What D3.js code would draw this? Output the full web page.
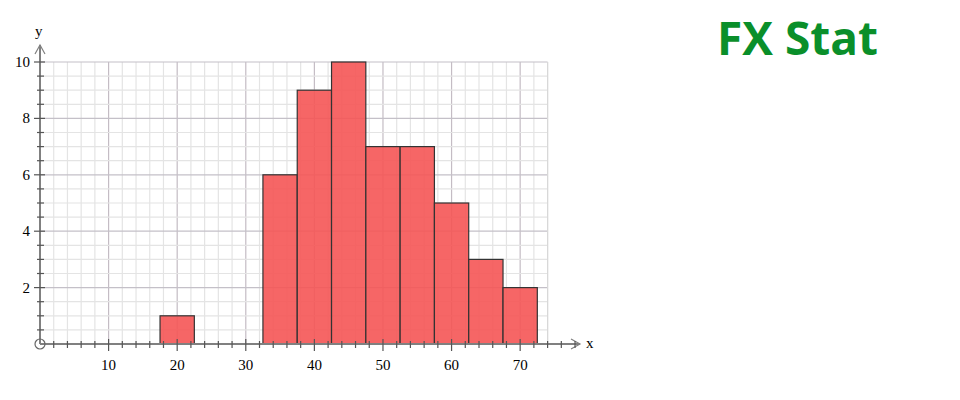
<!DOCTYPE html>
<html><head><meta charset="utf-8">
<script src="https://cdn.jsdelivr.net/npm/d3@7"></script>
<style>body{margin:0;background:#fff}svg{display:block}</style>
</head><body><svg id="c" width="960" height="400"></svg>
<script>
const binStarts = [17.5, 32.5, 37.5, 42.5, 47.5, 52.5, 57.5, 62.5, 67.5];
const binWidth = 5;
const counts = [1, 6, 9, 10, 7, 7, 5, 3, 2];
const xTickLabels = [10, 20, 30, 40, 50, 60, 70];
const yTickLabels = [2, 4, 6, 8, 10];
const title = "FX Stat";

const svg = d3.select("#c");
const x = d3.scaleLinear().domain([0, 74]).range([40, 547.6]);
const y = d3.scaleLinear().domain([0, 10]).range([344, 62]);

const g = svg.append("g");
// grid
const vx = d3.range(0, 74.01, 2);
const hy = d3.range(0, 10.01, 0.5);
g.selectAll(".vg").data(vx).join("line")
  .attr("x1", d => x(d)).attr("x2", d => x(d)).attr("y1", y(0)).attr("y2", y(10))
  .attr("stroke", d => d % 10 === 0 ? "#c4bcc4" : "#e4e4e4").attr("stroke-width", 1.2);
g.selectAll(".hg").data(hy).join("line")
  .attr("y1", d => y(d)).attr("y2", d => y(d)).attr("x1", x(0)).attr("x2", x(74))
  .attr("stroke", d => d % 2 === 0 ? "#c4c0c8" : "#e4e4e4").attr("stroke-width", 1.2);
g.append("line").attr("x1", x(74)).attr("x2", x(74)).attr("y1", y(0)).attr("y2", y(10))
  .attr("stroke", "#d8d8d8").attr("stroke-width", 1.2);

// bars
g.selectAll(".bar").data(counts).join("rect")
  .attr("x", (d, i) => x(binStarts[i]))
  .attr("width", (d, i) => x(binStarts[i] + binWidth) - x(binStarts[i]))
  .attr("y", d => y(d)).attr("height", d => y(0) - y(d))
  .attr("fill", "rgb(245,85,85)").attr("fill-opacity", 0.9)
  .attr("stroke", "#333").attr("stroke-width", 1.2);

// axes
const ax = "#808080";
g.append("line").attr("x1", x(0)).attr("x2", 580).attr("y1", y(0)).attr("y2", y(0)).attr("stroke", ax).attr("stroke-width", 2);
g.append("line").attr("x1", x(0)).attr("x2", x(0)).attr("y1", y(0)).attr("y2", 45).attr("stroke", ax).attr("stroke-width", 2);
g.append("path").attr("d", `M571,339 L580,344 L571,349`).attr("fill", "none").attr("stroke", ax).attr("stroke-width", 1.2);
g.append("path").attr("d", `M35,54 L40,45 L45,54`).attr("fill", "none").attr("stroke", ax).attr("stroke-width", 1.2);
g.append("circle").attr("cx", x(0)).attr("cy", y(0)).attr("r", 5).attr("fill", "none").attr("stroke", "#666").attr("stroke-width", 1.2);

// ticks
const xt = d3.range(2, 78.01, 2);
g.selectAll(".xt").data(xt).join("line")
  .attr("x1", d => x(d)).attr("x2", d => x(d))
  .attr("y1", d => d % 10 === 0 ? y(0) - 5 : y(0) - 3)
  .attr("y2", d => d % 10 === 0 ? y(0) + 7 : y(0) + 4)
  .attr("stroke", "#555").attr("stroke-width", 1.2);
const yt = d3.range(0.5, 10.01, 0.5);
g.selectAll(".yt").data(yt).join("line")
  .attr("y1", d => y(d)).attr("y2", d => y(d))
  .attr("x1", d => d % 2 === 0 ? x(0) - 6 : x(0) - 3)
  .attr("x2", d => d % 2 === 0 ? x(0) + 5 : x(0) + 4)
  .attr("stroke", "#555").attr("stroke-width", 1.2);

const font = "'Liberation Serif', 'Times New Roman', serif";
g.selectAll(".xl").data(xTickLabels).join("text")
  .attr("x", d => x(d)).attr("y", 370).attr("text-anchor", "middle")
  .attr("font-family", font).attr("font-size", 15).attr("fill", "#000").text(d => d);
g.selectAll(".yl").data(yTickLabels).join("text")
  .attr("x", 30).attr("y", d => y(d) + 5).attr("text-anchor", "end")
  .attr("font-family", font).attr("font-size", 15).attr("fill", "#000").text(d => d);
g.append("text").attr("x", 586).attr("y", 348).attr("font-family", font).attr("font-size", 15).text("x");
g.append("text").attr("x", 35).attr("y", 36).attr("font-family", font).attr("font-size", 15).text("y");

svg.append("text").attr("x", 717).attr("y", 55).attr("font-family", "'Open Sans', sans-serif")
  .attr("font-weight", "bold").attr("font-size", 46).attr("fill", "#0a8f2a").text(title);
</script></body></html>
